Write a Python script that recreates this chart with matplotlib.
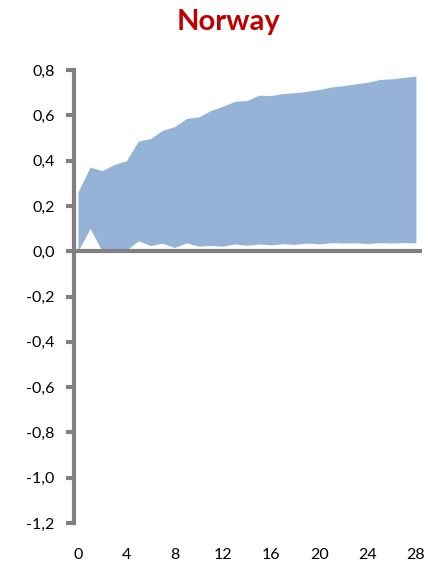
import matplotlib
matplotlib.use('Agg')
import matplotlib.pyplot as plt
import numpy as np

plt.rcParams['font.family'] = ['Lato', 'DejaVu Sans']

# horizon (quarters) and band bounds
horizon = list(range(29))
upper = [0.262, 0.371, 0.356, 0.383, 0.399, 0.486, 0.497, 0.534, 0.550, 0.586,
         0.593, 0.621, 0.640, 0.662, 0.665, 0.689, 0.687, 0.696, 0.700, 0.706,
         0.714, 0.725, 0.731, 0.739, 0.746, 0.758, 0.761, 0.767, 0.773]
lower = [0.0, 0.100, 0.0, 0.0, 0.005, 0.046, 0.025, 0.035, 0.016, 0.037,
         0.022, 0.026, 0.022, 0.032, 0.026, 0.032, 0.028, 0.033, 0.030, 0.036,
         0.032, 0.038, 0.036, 0.037, 0.034, 0.038, 0.036, 0.038, 0.037]
yticks = [-1.2, -1.0, -0.8, -0.6, -0.4, -0.2, 0.0, 0.2, 0.4, 0.6, 0.8]
xticks = [0, 4, 8, 12, 16, 20, 24, 28]

fig = plt.figure(figsize=(4.28, 5.63), dpi=100)
ax = fig.add_axes([0.1729, 0.0710, 0.813, 0.8047])

ax.fill_between(horizon, lower, upper, color='#95B3D7', linewidth=0)
# x axis line drawn at zero
ax.axhline(0, color='#808080', linewidth=3, zorder=3)

ax.set_xlim(-0.33, 28.5)
ax.set_ylim(-1.2, 0.8)

for s in ['top', 'right', 'bottom']:
    ax.spines[s].set_visible(False)
ax.spines['left'].set_color('#808080')
ax.spines['left'].set_linewidth(3)

ax.set_yticks(yticks)
ax.set_yticklabels([('%.1f' % v).replace('.', ',') for v in yticks])
ax.set_xticks(xticks)
ax.set_xticklabels([str(v) for v in xticks])
ax.tick_params(axis='y', color='#808080', width=3, length=6, labelsize=11.5, pad=8)
ax.tick_params(axis='x', length=0, labelsize=11.5, pad=18)

fig.text(0.533, 0.9467, 'Norway', color='#C00000', fontsize=21,
         fontweight='bold', ha='center', va='baseline')

fig.savefig('out.png', dpi=100)
